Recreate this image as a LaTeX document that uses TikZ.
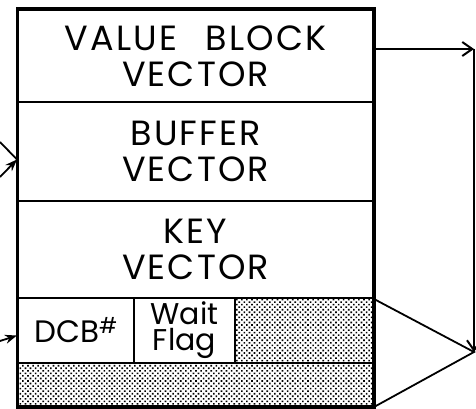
\documentclass[tikz,border=0pt]{standalone}
\usepackage{fontspec}
\setmainfont{Poppins}
\newfontfamily\spacedfont[LetterSpace=6,WordSpace=2.5]{Poppins}
\usetikzlibrary{arrows.meta,patterns.meta}
\begin{document}
\begin{tikzpicture}[x=1pt,y=-1pt,
  cell/.style={draw,line width=2pt,inner sep=0pt,anchor=north west},
  bigtext/.style={font=\spacedfont\fontsize{35}{36}\selectfont,align=center},
  smalltext/.style={font=\fontsize{31}{24}\selectfont,align=center},
  flagtext/.style={font=\fontsize{30}{26}\selectfont,align=center},
  shade/.style={pattern={Dots[distance=3.6pt,radius=1.15pt,angle=45]}},
  conn/.style={line width=1.8pt},
  barb/.style={-{Straight Barb[length=10pt,width=14pt,line width=2pt]}},
  stl/.style={-{Stealth[length=12pt,width=9pt]}}]
\useasboundingbox (0,0) rectangle (476,409);
% shaded parts
\node[cell,shade,minimum width=355pt,minimum height=43pt] (strip) at (17,362) {};
\node[cell,shade,minimum width=138pt,minimum height=65pt] (corner) at (234,297) {};
% rows
\node[cell,bigtext,minimum width=355pt,minimum height=92pt] (vb) at (17,9) {VALUE BLOCK\\VECTOR};
\node[cell,bigtext,minimum width=355pt,minimum height=99pt] (buf) at (17,101) {BUFFER\\VECTOR};
\node[cell,bigtext,minimum width=355pt,minimum height=97pt] (key) at (17,200) {KEY\\VECTOR};
\node[cell,smalltext,minimum width=116pt,minimum height=65pt] (dcb) at (17,297) {DCB$^{\#}$};
\node[cell,flagtext,minimum width=101pt,minimum height=65pt] (wait) at (133,297) {Wait\\Flag};
% outer frame
\draw[line width=3pt] (vb.north west) rectangle (strip.south east);
% left arrows
\coordinate (la) at (0,142);
\coordinate (lb) at (0,177);
\coordinate (lc) at (0,341);
\draw[conn] (la) -- ([yshift=-8pt]buf.west);
\draw[conn,stl] (lb) -- ([yshift=-8pt]buf.west);
\draw[conn,stl] (lc) -- ([yshift=-5pt]dcb.west);
% right arrows
\coordinate (tr) at (474,49);
\coordinate (br) at (474,352);
\draw[conn,barb] (vb.east |- tr) -- (tr);
\draw[line width=2.5pt,barb] (tr) -- (br);
\draw[conn] (key.south east) -- (br) -- (strip.south east);
\end{tikzpicture}
\end{document}
